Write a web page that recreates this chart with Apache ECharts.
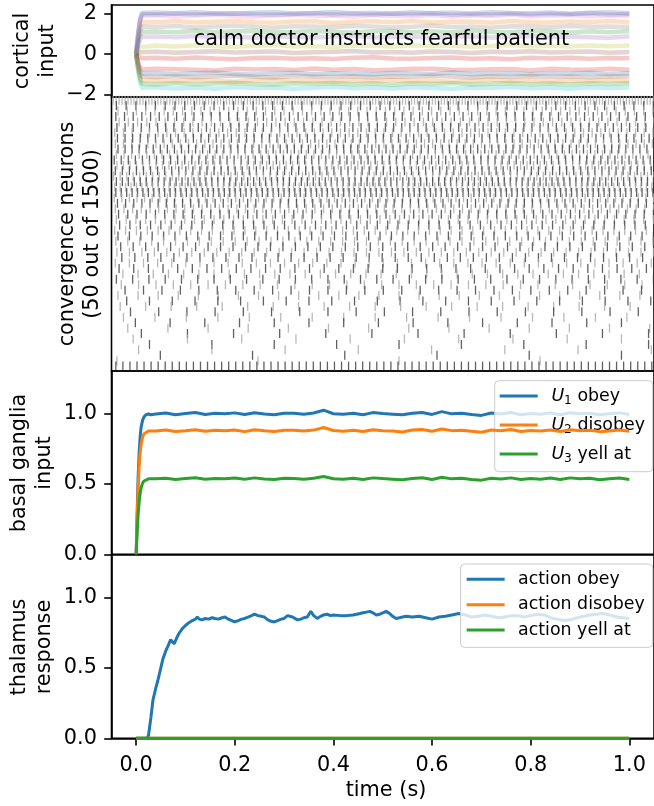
<!DOCTYPE html>
<html><head><meta charset="utf-8">
<script src="https://cdn.jsdelivr.net/npm/echarts@6/dist/echarts.min.js"></script>
<style>html,body{margin:0;padding:0;background:#fff}#c{width:654px;height:806px}</style>
</head><body><div id="c"></div>
<script>
// ---------------- DATA ----------------
// x tick labels (time, s)
const timeTicks = [0, 0.2, 0.4, 0.6, 0.8, 1.0];
const corticalTicks = [-2, 0, 2];
const unitTicks = [0, 0.5, 1.0];

// cortical input (semantic pointer dimensions)
const tCort = [0, 0.004, 0.008, 0.012, 0.04, 0.08, 0.12, 0.16, 0.20, 0.24, 0.28, 0.32, 0.36, 0.40, 0.44, 0.48, 0.52, 0.56, 0.60, 0.64, 0.68, 0.72, 0.76, 0.80, 0.84, 0.88, 0.92, 0.96, 1.00];
const cortD00 = [0, -0.48, -0.81, -0.95, -0.92, -0.99, -0.93, -0.90, -0.97, -1.00, -0.94, -0.91, -0.98, -0.93, -0.96, -0.99, -0.92, -0.94, -0.97, -0.90, -0.98, -0.95, -0.93, -0.99, -0.92, -0.96, -0.91, -0.97, -0.94];
const cortD01 = [0, 0.79, 1.34, 1.58, 1.56, 1.62, 1.55, 1.59, 1.63, 1.57, 1.54, 1.60, 1.61, 1.53, 1.58, 1.61, 1.56, 1.62, 1.55, 1.59, 1.60, 1.54, 1.63, 1.57, 1.55, 1.60, 1.58, 1.62, 1.56];
const cortD02 = [0, 0.55, 0.94, 1.10, 1.11, 1.07, 1.15, 1.08, 1.12, 1.14, 1.06, 1.09, 1.13, 1.10, 1.05, 1.12, 1.14, 1.08, 1.11, 1.07, 1.15, 1.09, 1.08, 1.13, 1.11, 1.06, 1.12, 1.07, 1.14];
const cortD03 = [0, -0.38, -0.64, -0.75, -0.71, -0.74, -0.77, -0.80, -0.72, -0.75, -0.73, -0.78, -0.70, -0.76, -0.73, -0.79, -0.77, -0.72, -0.71, -0.76, -0.78, -0.74, -0.73, -0.80, -0.71, -0.75, -0.77, -0.72, -0.76];
const cortD04 = [0, 0.43, 0.72, 0.85, 0.86, 0.83, 0.89, 0.84, 0.87, 0.81, 0.88, 0.85, 0.82, 0.86, 0.90, 0.83, 0.84, 0.87, 0.81, 0.86, 0.88, 0.82, 0.85, 0.89, 0.84, 0.87, 0.83, 0.81, 0.88];
const cortD05 = [0, 0.05, 0.09, 0.10, 0.12, 0.07, 0.11, 0.14, 0.08, 0.10, 0.13, 0.06, 0.09, 0.12, 0.15, 0.08, 0.11, 0.07, 0.13, 0.10, 0.06, 0.12, 0.09, 0.14, 0.08, 0.11, 0.13, 0.07, 0.10];
const cortD06 = [0, 0.94, 1.60, 1.88, 1.91, 1.85, 1.89, 1.93, 1.86, 1.84, 1.90, 1.92, 1.87, 1.89, 1.83, 1.91, 1.88, 1.86, 1.92, 1.85, 1.90, 1.87, 1.93, 1.84, 1.89, 1.91, 1.86, 1.88, 1.90];
const cortD07 = [0, 0.68, 1.15, 1.35, 1.33, 1.38, 1.31, 1.36, 1.39, 1.34, 1.30, 1.37, 1.35, 1.32, 1.38, 1.36, 1.31, 1.34, 1.39, 1.33, 1.36, 1.30, 1.37, 1.35, 1.32, 1.38, 1.34, 1.36, 1.33];
const cortD08 = [0, 0.20, 0.34, 0.40, 0.42, 0.37, 0.44, 0.39, 0.36, 0.41, 0.45, 0.38, 0.40, 0.35, 0.43, 0.41, 0.37, 0.44, 0.39, 0.42, 0.36, 0.40, 0.45, 0.38, 0.41, 0.37, 0.43, 0.39, 0.42];
const cortD09 = [0, -0.83, -1.40, -1.65, -1.62, -1.68, -1.64, -1.70, -1.61, -1.66, -1.63, -1.69, -1.65, -1.60, -1.67, -1.64, -1.68, -1.62, -1.66, -1.70, -1.63, -1.65, -1.61, -1.67, -1.64, -1.69, -1.62, -1.66, -1.63];
const cortD10 = [0, 1.01, 1.72, 2.02, 2.04, 2.00, 2.06, 2.01, 1.98, 2.03, 2.05, 1.99, 2.02, 2.07, 2.00, 2.03, 1.98, 2.05, 2.01, 2.04, 1.99, 2.06, 2.02, 2.00, 2.04, 1.98, 2.03, 2.05, 2.01];
const cortD11 = [0, -0.65, -1.11, -1.30, -1.28, -1.33, -1.27, -1.31, -1.35, -1.29, -1.26, -1.32, -1.30, -1.34, -1.28, -1.31, -1.27, -1.33, -1.29, -1.35, -1.30, -1.26, -1.32, -1.28, -1.34, -1.29, -1.31, -1.27, -1.33];
const cortD12 = [0, -0.73, -1.23, -1.45, -1.47, -1.42, -1.48, -1.44, -1.40, -1.46, -1.49, -1.43, -1.45, -1.41, -1.47, -1.44, -1.50, -1.43, -1.46, -1.42, -1.48, -1.45, -1.41, -1.47, -1.44, -1.49, -1.43, -1.46, -1.42];
const cortD13 = [0, -0.10, -0.17, -0.20, -0.18, -0.23, -0.16, -0.21, -0.25, -0.19, -0.17, -0.22, -0.20, -0.24, -0.18, -0.15, -0.21, -0.23, -0.19, -0.16, -0.22, -0.20, -0.25, -0.18, -0.21, -0.17, -0.23, -0.19, -0.20];
const cortD14 = [0, 0.99, 1.67, 1.97, 1.95, 1.99, 1.94, 1.98, 2.01, 1.96, 1.93, 1.97, 2.00, 1.95, 1.98, 1.94, 1.99, 1.96, 2.00, 1.93, 1.97, 1.95, 1.99, 1.94, 1.98, 1.96, 2.01, 1.95, 1.97];
const cortD15 = [0, -0.55, -0.94, -1.10, -1.12, -1.08, -1.13, -1.09, -1.06, -1.11, -1.14, -1.07, -1.10, -1.12, -1.08, -1.13, -1.09, -1.11, -1.06, -1.10, -1.14, -1.08, -1.12, -1.07, -1.11, -1.09, -1.13, -1.08, -1.10];
const annotationText = 'calm doctor instructs fearful patient';
const annotationAt = [0.117, 0.70];

// convergence neurons: per-neuron inter-spike interval and first spike (ms), 50 of 1500
const neuronISI = [5.5, 18, 17, 16, 17, 15, 16, 14, 15, 13, 14, 13, 12, 13, 12, 11, 10, 10, 14, 15, 16, 17, 18, 19, 20, 21, 22, 23, 23, 24, 26, 27, 28, 30, 32, 34, 37, 42, 47, 52, 58, 64, 74, 85, 100, 115, 135, 170, 260, 13];
const neuronOnset = [3, 9, 12, 8, 14, 10, 6, 11, 7, 12, 9, 5, 10, 7, 4, 9, 6, 8, 5, 11, 7, 13, 9, 15, 6, 12, 8, 17, 10, 19, 7, 14, 21, 9, 18, 25, 12, 28, 16, 35, 22, 44, 30, 55, 40, 70, 50, 90, 10, 8];

// basal ganglia input
const tBG = [0, 0.002, 0.004, 0.006, 0.008, 0.010, 0.013, 0.016, 0.020, 0.025, 0.030, 0.04, 0.06, 0.08, 0.10, 0.12, 0.14, 0.16, 0.18, 0.20, 0.22, 0.24, 0.26, 0.28, 0.30, 0.32, 0.34, 0.36, 0.38, 0.40, 0.42, 0.44, 0.46, 0.48, 0.50, 0.52, 0.54, 0.56, 0.58, 0.60, 0.62, 0.64, 0.66, 0.68, 0.70, 0.72, 0.74, 0.76, 0.78, 0.80, 0.82, 0.84, 0.86, 0.88, 0.90, 0.92, 0.94, 0.96, 0.98, 1.00];
const bgObey = [0, 0.30, 0.55, 0.72, 0.83, 0.90, 0.95, 0.975, 0.99, 0.995, 0.99,
  0.995, 1.002, 0.990, 0.998, 1.005, 0.992, 1.000, 0.996, 1.003, 0.991,
  1.004, 0.995, 0.990, 1.001, 1.000, 0.994, 1.002, 1.022, 0.997, 0.993,
  1.001, 0.990, 1.005, 0.998, 0.994, 0.989, 1.000, 1.006, 0.992, 1.012,
  0.996, 1.001, 0.991, 0.985, 1.002, 0.995, 1.006, 0.990, 0.999, 0.994,
  1.003, 0.990, 1.004, 0.996, 1.001, 0.989, 0.996, 1.003, 0.991];
const bgDisobey = [0, 0.25, 0.47, 0.62, 0.72, 0.78, 0.83, 0.855, 0.868, 0.874, 0.875,
  0.874, 0.881, 0.871, 0.877, 0.884, 0.873, 0.879, 0.877, 0.882, 0.870,
  0.883, 0.876, 0.871, 0.880, 0.879, 0.875, 0.881, 0.899, 0.878, 0.872,
  0.880, 0.871, 0.884, 0.877, 0.875, 0.868, 0.881, 0.885, 0.873, 0.889,
  0.877, 0.880, 0.872, 0.865, 0.881, 0.876, 0.885, 0.871, 0.878, 0.875,
  0.882, 0.871, 0.883, 0.877, 0.880, 0.870, 0.875, 0.882, 0.872];
const bgYell = [0, 0.15, 0.28, 0.37, 0.43, 0.47, 0.505, 0.52, 0.53, 0.535, 0.535,
  0.535, 0.540, 0.531, 0.537, 0.543, 0.533, 0.538, 0.535, 0.541, 0.532,
  0.542, 0.534, 0.530, 0.539, 0.538, 0.533, 0.540, 0.552, 0.536, 0.532,
  0.539, 0.530, 0.542, 0.537, 0.533, 0.529, 0.538, 0.543, 0.531, 0.546,
  0.535, 0.539, 0.530, 0.526, 0.540, 0.534, 0.542, 0.530, 0.538, 0.533,
  0.541, 0.530, 0.542, 0.535, 0.539, 0.529, 0.535, 0.541, 0.531];

// thalamus response
const tThal = [0, 0.022, 0.025, 0.030, 0.034, 0.040, 0.044, 0.050, 0.054, 0.060,
  0.064, 0.070, 0.074, 0.077, 0.082, 0.087, 0.094, 0.100, 0.107, 0.114,
  0.120, 0.124, 0.128, 0.134, 0.140, 0.147, 0.154, 0.160, 0.167, 0.174,
  0.180, 0.187, 0.194, 0.200, 0.207, 0.214, 0.220, 0.227, 0.234, 0.240,
  0.247, 0.254, 0.260, 0.267, 0.274, 0.280, 0.287, 0.294, 0.300, 0.307,
  0.310, 0.317, 0.327, 0.334, 0.340, 0.347, 0.354, 0.360, 0.367, 0.374,
  0.380, 0.387, 0.394, 0.400, 0.414, 0.427, 0.440, 0.447, 0.454, 0.460,
  0.467, 0.474, 0.480, 0.487, 0.494, 0.500, 0.507, 0.514, 0.520, 0.527,
  0.534, 0.547, 0.560, 0.574, 0.587, 0.600, 0.614, 0.627, 0.640, 0.654,
  0.667, 0.680, 0.694, 0.707, 0.720, 0.734, 0.747, 0.760, 0.774, 0.787,
  0.800, 0.814, 0.827, 0.840, 0.854, 0.867, 0.880, 0.894, 0.907, 0.920,
  0.934, 0.947, 0.960, 0.974, 0.987, 1.000];
const thalObey = [0, 0, 0.02, 0.15, 0.27, 0.36, 0.41, 0.50, 0.56, 0.62,
  0.65, 0.70, 0.69, 0.67, 0.71, 0.745, 0.78, 0.80, 0.82, 0.835,
  0.845, 0.86, 0.845, 0.84, 0.85, 0.845, 0.855, 0.85, 0.845, 0.855,
  0.86, 0.845, 0.835, 0.825, 0.835, 0.845, 0.85, 0.86, 0.87, 0.88,
  0.87, 0.865, 0.86, 0.84, 0.83, 0.825, 0.835, 0.845, 0.85, 0.87,
  0.88, 0.86, 0.84, 0.845, 0.855, 0.86, 0.90, 0.87, 0.85, 0.865,
  0.875, 0.88, 0.87, 0.875, 0.87, 0.87, 0.875, 0.88, 0.885, 0.89,
  0.895, 0.90, 0.89, 0.875, 0.88, 0.89, 0.90, 0.885, 0.865, 0.85,
  0.855, 0.865, 0.86, 0.865, 0.855, 0.845, 0.86, 0.865, 0.875, 0.885,
  0.875, 0.86, 0.865, 0.875, 0.865, 0.855, 0.86, 0.87, 0.87, 0.86,
  0.87, 0.88, 0.875, 0.855, 0.845, 0.835, 0.84, 0.855, 0.865, 0.875,
  0.88, 0.885, 0.875, 0.86, 0.855, 0.85];
const tThalFlat = [0, 1.0];
const thalDisobey = [0, 0];
const thalYell = [0, 0];

const bgNames = ['U1 obey', 'U2 disobey', 'U3 yell at'];
const thalNames = ['action obey', 'action disobey', 'action yell at'];

// ---------------- CHART ----------------
const FONT = 'DejaVu Sans';
const FS = 20.8;
const LFS = 17.4;
const LEFT = 111.5, WIDTH = 549.5;
const TAB = ['#1f77b4', '#ff7f0e', '#2ca02c', '#d62728', '#9467bd', '#8c564b', '#e377c2', '#7f7f7f', '#bcbd22', '#17becf'];

function pairs(t, v) { const n = Math.min(t.length, v.length); const o = []; for (let i = 0; i < n; i++) o.push([t[i], v[i]]); return o; }
function minusFmt(v) { return v < 0 ? '\u2212' + Math.abs(v) : String(v); }
function oneDec(v) { return Number(v).toFixed(1); }

const spineColor = '#000';
function gridBox(top, height) { return { left: LEFT, top: top, width: WIDTH, height: height, show: true, borderColor: spineColor, borderWidth: 1.6, backgroundColor: 'transparent', containLabel: false }; }
function yAx(g, min, max, vals, fmt) {
  return { type: 'value', gridIndex: g, min: min, max: max, splitLine: { show: false },
    axisLine: { show: true, onZero: false, lineStyle: { color: spineColor, width: 1.6 } },
    axisTick: { show: true, inside: false, length: 7.3, lineStyle: { color: spineColor, width: 1.6 }, customValues: vals },
    axisLabel: { show: true, customValues: vals, formatter: fmt, fontFamily: FONT, fontSize: FS, color: '#000', margin: 14.6 } };
}
function xHidden(g, min, max) { return { type: 'value', gridIndex: g, min: min, max: max, show: false, splitLine: { show: false } }; }

const cortLines = [cortD00, cortD01, cortD02, cortD03, cortD04, cortD05, cortD06, cortD07, cortD08, cortD09, cortD10, cortD11, cortD12, cortD13, cortD14, cortD15];

const series = [];
cortLines.forEach(function (v, i) {
  series.push({ type: 'line', name: 'cort' + i, xAxisIndex: 0, yAxisIndex: 0, data: pairs(tCort, v), showSymbol: false, silent: true,
    lineStyle: { width: 4.5, color: TAB[i % 10], opacity: 0.25 }, animation: false, z: 2 });
});

const spikes = [];
for (let n = 0; n < neuronISI.length; n++) {
  for (let t = neuronOnset[n]; t <= 1000; t += neuronISI[n]) spikes.push([t / 1000, n + 1]);
}
series.push({ type: 'scatter', name: 'spikes', xAxisIndex: 1, yAxisIndex: 1, data: spikes, symbol: 'rect', symbolSize: [1.3, 9], silent: true, animation: false,
  itemStyle: { color: function (p) { return (p.data[1] % 2 === 0) ? '#3a3a3a' : '#a8a8a8'; } } });

[bgObey, bgDisobey, bgYell].forEach(function (v, i) {
  series.push({ type: 'line', name: bgNames[i], xAxisIndex: 2, yAxisIndex: 2, data: pairs(tBG, v), showSymbol: false, silent: true,
    lineStyle: { width: 3, color: TAB[i] }, itemStyle: { color: TAB[i] }, animation: false, z: 3 + i });
});
series.push({ type: 'line', name: thalNames[0], xAxisIndex: 3, yAxisIndex: 3, data: pairs(tThal, thalObey), showSymbol: false, silent: true, lineStyle: { width: 3, color: TAB[0] }, itemStyle: { color: TAB[0] }, animation: false, z: 3 });
series.push({ type: 'line', name: thalNames[1], xAxisIndex: 3, yAxisIndex: 3, data: pairs(tThalFlat, thalDisobey), showSymbol: false, silent: true, lineStyle: { width: 3, color: TAB[1] }, itemStyle: { color: TAB[1] }, animation: false, z: 4 });
series.push({ type: 'line', name: thalNames[2], xAxisIndex: 3, yAxisIndex: 3, data: pairs(tThalFlat, thalYell), showSymbol: false, silent: true, lineStyle: { width: 3, color: TAB[2] }, itemStyle: { color: TAB[2] }, animation: false, z: 5 });

const richSub = {
  u: { fontFamily: FONT, fontSize: LFS, fontStyle: 'italic', color: '#000', lineHeight: 22 },
  s: { fontFamily: FONT, fontSize: 12.2, color: '#000', lineHeight: 12, verticalAlign: 'bottom' }
};
function legendBase(names, top, gap, pad, textPadLeft) {
  return { data: names, orient: 'vertical', right: 1.3, top: top, icon: 'rect', itemWidth: 38, itemHeight: 3, itemGap: gap,
    padding: pad, backgroundColor: 'rgba(255,255,255,0.8)', borderColor: '#cccccc', borderWidth: 1, borderRadius: 4, selectedMode: false,
    textStyle: { fontFamily: FONT, fontSize: LFS, color: '#000', lineHeight: 20, padding: [0, 0, 0, textPadLeft], rich: richSub } };
}
const leg1 = legendBase(bgNames, 380.7, 7, [4.3, 7.7, 6.7, 5], 8.7);
leg1.formatter = function (name) { return name.replace(/^U(\d) /, '{u|U}{s|$1} '); };
const leg2 = legendBase(thalNames, 564, 5.4, [5.3, 8, 7.3, 6], 8.4);

const option = {
  backgroundColor: '#ffffff',
  animation: false,
  grid: [gridBox(5, 92), gridBox(97, 274), gridBox(371, 183.3), gridBox(555, 183.3)],
  xAxis: [
    xHidden(0, -0.05, 1.05),
    xHidden(1, 0, 1),
    xHidden(2, -0.05, 1.05),
    { type: 'value', gridIndex: 3, min: -0.05, max: 1.05, splitLine: { show: false },
      axisLine: { show: true, onZero: false, lineStyle: { color: spineColor, width: 1.6 } },
      axisTick: { show: true, inside: false, length: 7.3, lineStyle: { color: spineColor, width: 1.6 }, customValues: timeTicks },
      axisLabel: { show: true, customValues: timeTicks, formatter: oneDec, fontFamily: FONT, fontSize: FS, color: '#000', margin: 16.5 } }
  ],
  yAxis: [
    yAx(0, -2.1, 2.41, corticalTicks, minusFmt),
    { type: 'value', gridIndex: 1, min: 0.4, max: 50.9, inverse: true, show: false, splitLine: { show: false } },
    yAx(2, 0, 1.3, unitTicks, oneDec),
    yAx(3, 0, 1.3, unitTicks, oneDec)
  ],
  legend: [leg1, leg2],
  series: series
};

const chart = echarts.init(document.getElementById('c'), null, { renderer: 'canvas' });
chart.setOption(option);

const ap = chart.convertToPixel({ xAxisIndex: 0, yAxisIndex: 0 }, annotationAt);
function vtext(x, y, txt) {
  return { type: 'text', x: x, y: y, rotation: Math.PI / 2, silent: true, z: 100,
    style: { text: txt, fontFamily: FONT, fontSize: FS, fill: '#000', align: 'center', verticalAlign: 'middle', lineHeight: 25 } };
}
chart.setOption({
  graphic: [
    { type: 'text', x: ap[0], y: ap[1], silent: true, z: 100, style: { text: annotationText, fontFamily: FONT, fontSize: FS, fill: '#000', align: 'left', verticalAlign: 'middle' } },
    vtext(35, 51, 'cortical\ninput'),
    vtext(80, 234, 'convergence neurons\n(50 out of 1500)'),
    vtext(32, 463, 'basal ganglia\ninput'),
    vtext(32, 647, 'thalamus\nresponse'),
    { type: 'text', x: 386, y: 791, silent: true, z: 100, style: { text: 'time (s)', fontFamily: FONT, fontSize: FS, fill: '#000', align: 'center', verticalAlign: 'middle' } }
  ]
});
</script></body></html>
